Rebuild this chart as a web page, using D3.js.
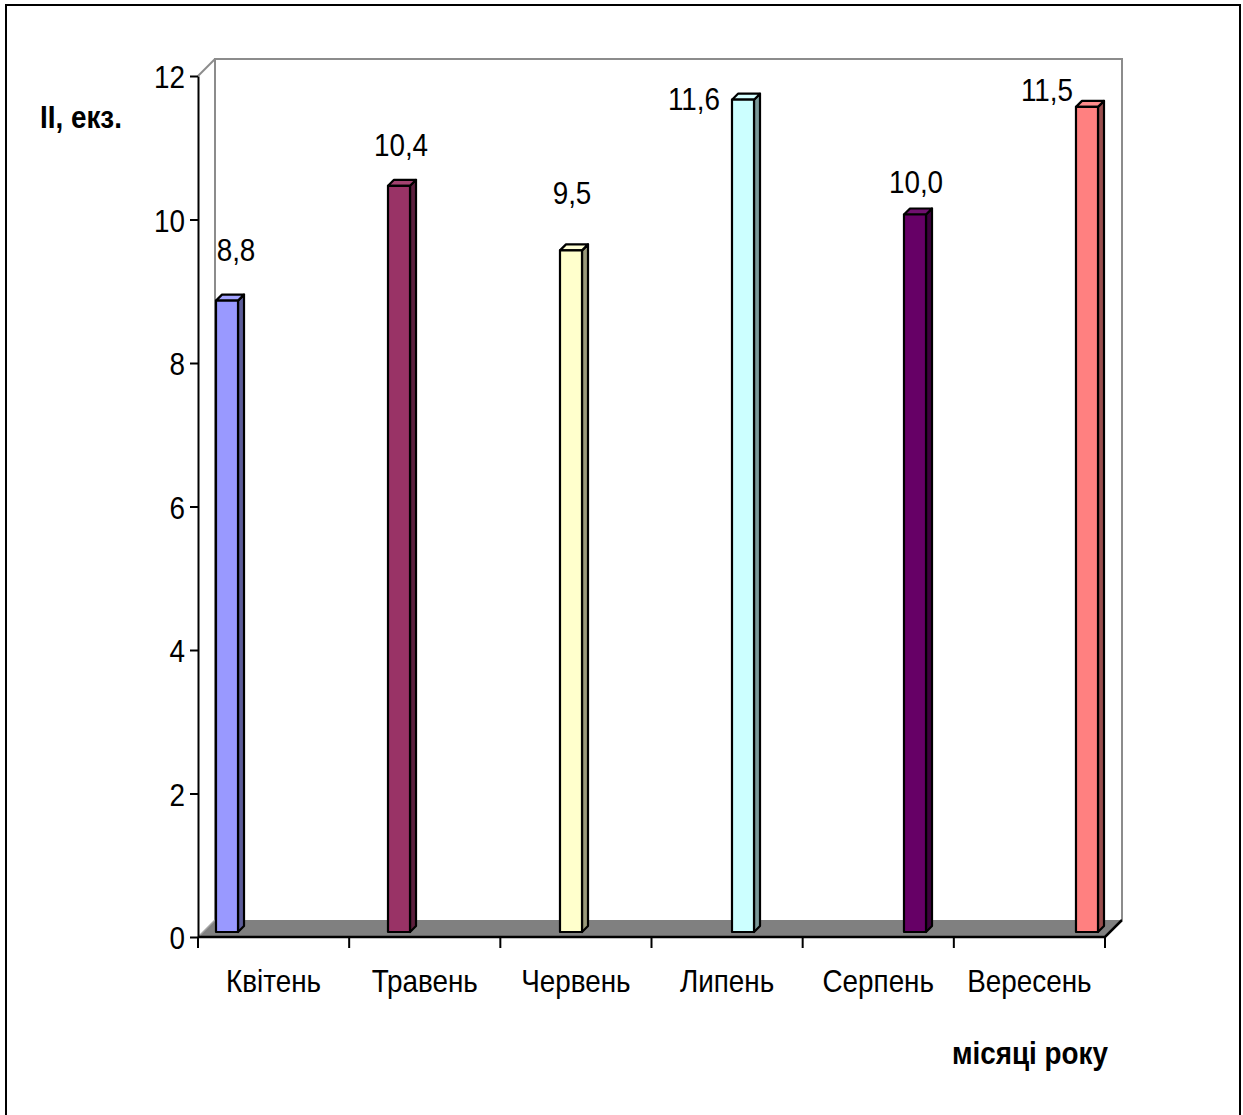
<!DOCTYPE html>
<html>
<head>
<meta charset="utf-8">
<script src="https://cdn.jsdelivr.net/npm/d3@7/dist/d3.min.js"></script>
<style>
  html, body { margin: 0; padding: 0; background: #fff; }
  svg { display: block; }
  text { font-family: "Liberation Sans", Arial, sans-serif; fill: #000; }
</style>
</head>
<body>
<svg id="chart" width="1243" height="1115"></svg>
<script>
// Monthly counts (II, specimens)
const months = ["Квітень", "Травень", "Червень", "Липень", "Серпень", "Вересень"];
const values = [8.8, 10.4, 9.5, 11.6, 10.0, 11.5];
const valueLabels = ["8,8", "10,4", "9,5", "11,6", "10,0", "11,5"];
const yTicks = [0, 2, 4, 6, 8, 10, 12];

// Bar face colours: front, side (shaded), top
const frontColors = ["#9999FF", "#993366", "#FFFFCC", "#CCFFFF", "#660066", "#FF8080"];
const sideColors  = ["#5C5C99", "#5C1F3D", "#99997A", "#7A9999", "#3D003D", "#994D4D"];
const topColors   = ["#A3A3FF", "#A34270", "#FFFFD6", "#D6FFFF", "#70106F", "#FF8C8C"];

// Label placement relative to each bar's top-front centre
const labelNudge = [[9, -40], [2, -30], [1, -46], [-49, 10], [1, -22], [-40, -6]];

// Condensed lettering: squeeze text horizontally around its anchor point
const squeeze = 0.87;
function narrowText(sel) {
  sel.each(function () {
    const t = d3.select(this);
    const x = +t.attr("x") || 0, y = +t.attr("y") || 0;
    t.attr("x", 0).attr("y", 0)
      .attr("transform", `translate(${x},${y}) scale(${squeeze},1)`);
  });
}

const svg = d3.select("#chart");

// Outer frame
svg.append("rect")
  .attr("x", 6).attr("y", 5).attr("width", 1234).attr("height", 1120)
  .attr("fill", "none").attr("stroke", "#000").attr("stroke-width", 2);

// Front plane of the plot
const x0 = 198, x1 = 1105, yBottom = 937, yTop = 76;
const depth = 17;                   // wall/floor depth offset
const barFront = 5, barBack = 11;   // bar depth planes

const y = d3.scaleLinear().domain([0, 12]).range([yBottom, yTop]);
const xCat = d3.scaleBand().domain(months).range([x0, x1]).padding(0);
const xBar = d3.scaleBand().domain(months).range([x0 + 13, x1 - 12])
  .paddingInner(0.872).paddingOuter(0);

// Back walls (outline only)
const wall = svg.append("g").attr("fill", "none").attr("stroke", "#8C8C8C").attr("stroke-width", 2);
wall.append("path").attr("d", d3.line()([
  [x0 + depth, y(0) - depth], [x0 + depth, y(12) - depth],
  [x1 + depth, y(12) - depth], [x1 + depth, y(0) - depth]
]));
wall.append("line")
  .attr("x1", x0).attr("y1", y(12)).attr("x2", x0 + depth).attr("y2", y(12) - depth);

// Floor
svg.append("path")
  .attr("d", d3.line()([
    [x0, y(0)], [x0 + depth, y(0) - depth], [x1 + depth, y(0) - depth], [x1, y(0)]
  ]) + "Z")
  .attr("fill", "#808080");
svg.append("line")
  .attr("x1", x0).attr("y1", y(0)).attr("x2", x0 + depth).attr("y2", y(0) - depth)
  .attr("stroke", "#A6A6A6").attr("stroke-width", 1.5);
svg.append("path")
  .attr("d", d3.line()([[x0, y(0)], [x1, y(0)], [x1 + depth, y(0) - depth]]))
  .attr("fill", "none").attr("stroke", "#000").attr("stroke-width", 2.5);

// Bars with value labels
const bars = svg.append("g").attr("stroke", "#000").attr("stroke-width", 2.2)
  .attr("stroke-linejoin", "round");
const labels = svg.append("g");
months.forEach((m, i) => {
  const bx = xBar(m) + barFront, w = xBar.bandwidth();
  const top = y(values[i]) - barFront, bot = y(0) - barFront;
  const d = barBack - barFront;
  bars.append("path")
    .attr("d", d3.line()([[bx + w, top], [bx + w + d, top - d], [bx + w + d, bot - d], [bx + w, bot]]) + "Z")
    .attr("fill", sideColors[i]);
  bars.append("path")
    .attr("d", d3.line()([[bx, top], [bx + d, top - d], [bx + w + d, top - d], [bx + w, top]]) + "Z")
    .attr("fill", topColors[i]);
  bars.append("rect")
    .attr("x", bx).attr("y", top).attr("width", w).attr("height", bot - top)
    .attr("fill", frontColors[i]);
  labels.append("text")
    .attr("x", bx + w / 2 + labelNudge[i][0])
    .attr("y", top + labelNudge[i][1])
    .attr("text-anchor", "middle")
    .attr("font-size", 32)
    .text(valueLabels[i]);
});
narrowText(labels.selectAll("text"));

// Y axis
const yAxis = svg.append("g")
  .attr("transform", `translate(${x0},0)`)
  .call(d3.axisLeft(y).tickValues(yTicks).tickSize(8).tickSizeOuter(0).tickPadding(5));
yAxis.select(".domain").attr("stroke", "#000").attr("stroke-width", 2);
yAxis.selectAll(".tick line").attr("stroke", "#000").attr("stroke-width", 2);
yAxis.selectAll(".tick text").attr("font-size", 32).attr("font-family", null)
  .attr("dy", "0.36em").call(narrowText);

// X axis: ticks on category boundaries, labels centred
const xTickPos = months.map(m => xCat(m)).concat([x1]);
svg.append("g").selectAll("line").data(xTickPos).join("line")
  .attr("x1", d => d).attr("x2", d => d)
  .attr("y1", y(0)).attr("y2", y(0) + 11)
  .attr("stroke", "#000").attr("stroke-width", 2);
svg.append("g").selectAll("text").data(months).join("text")
  .attr("x", d => xCat(d) + xCat.bandwidth() / 2)
  .attr("y", 992)
  .attr("text-anchor", "middle")
  .attr("font-size", 32)
  .text(d => d)
  .call(narrowText);

// Axis titles
svg.append("text").attr("x", 40).attr("y", 128)
  .attr("font-size", 32).attr("font-weight", "bold").text("II, екз.")
  .call(narrowText);
svg.append("text").attr("x", 1108).attr("y", 1064).attr("text-anchor", "end")
  .attr("font-size", 32).attr("font-weight", "bold").text("місяці року")
  .call(narrowText);
</script>
</body>
</html>
